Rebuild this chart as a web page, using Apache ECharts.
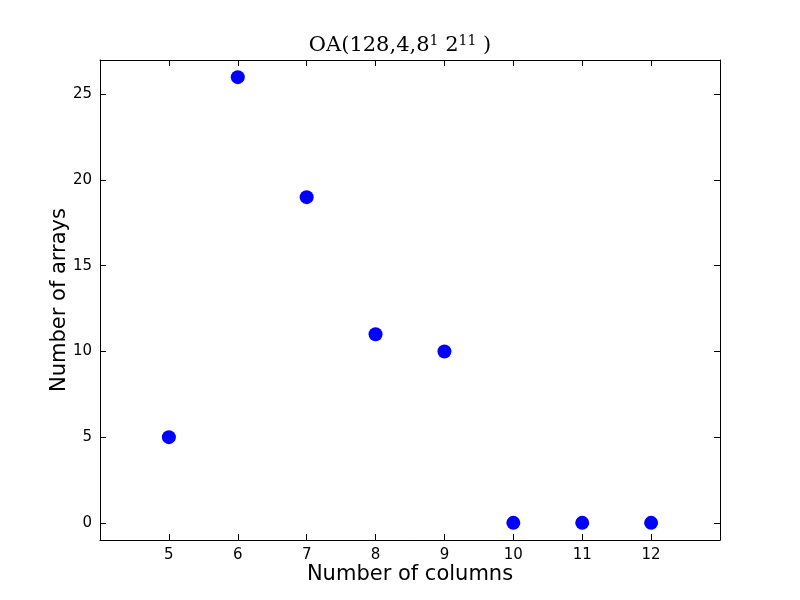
<!DOCTYPE html>
<html><head><meta charset="utf-8">
<script src="https://cdn.jsdelivr.net/npm/echarts@6/dist/echarts.min.js"></script>
<style>html,body{margin:0;padding:0;background:#fff}#c{width:800px;height:600px}</style>
</head><body><div id="c"></div>
<script>
const columns = [5, 6, 7, 8, 9, 10, 11, 12];
const arrays = [5, 26, 19, 11, 10, 0, 0, 0];
const xTicks = [5, 6, 7, 8, 9, 10, 11, 12];
const yTicks = [0, 5, 10, 15, 20, 25];

const chart = echarts.init(document.getElementById('c'));
const line = {show: true, onZero: false, lineStyle: {color: '#000', width: 1}};
const tick = vals => ({show: true, inside: true, length: 6, customValues: vals, lineStyle: {color: '#000', width: 1}});
const lbl = {fontFamily: 'DejaVu Sans', fontSize: 15, color: '#000'};
const nameStyle = {fontFamily: 'DejaVu Sans', fontSize: 21, color: '#000'};
chart.setOption({
  animation: false,
  title: {
    text: '{n|OA(128,4,8}{s|1}{n| 2}{s|11}{n| )}',
    left: 'center', top: 29,
    textStyle: {
      rich: {
        n: {fontFamily: 'DejaVu Serif', fontSize: 21, fontWeight: 'normal', color: '#000'},
        s: {fontFamily: 'DejaVu Serif', fontSize: 14, fontWeight: 'normal', color: '#000', verticalAlign: 'top', padding: [0, 0, 10, 0]}
      }
    }
  },
  grid: {left: 100, right: 80, top: 60, bottom: 60},
  xAxis: [
    {type: 'value', min: 4, max: 13, position: 'bottom',
      name: 'Number of columns', nameLocation: 'middle', nameGap: 24, nameMoveOverlap: false, nameTextStyle: nameStyle,
      axisLine: line, axisTick: tick(xTicks), splitLine: {show: false},
      axisLabel: Object.assign({customValues: xTicks, margin: 8}, lbl)},
    {type: 'value', min: 4, max: 13, position: 'top',
      axisLine: line, axisTick: tick(xTicks), splitLine: {show: false},
      axisLabel: {show: false}}
  ],
  yAxis: [
    {type: 'value', min: -1, max: 27, position: 'left',
      name: 'Number of arrays', nameLocation: 'middle', nameGap: 30, nameMoveOverlap: false, nameTextStyle: nameStyle,
      axisLine: line, axisTick: tick(yTicks), splitLine: {show: false},
      axisLabel: Object.assign({customValues: yTicks, margin: 8}, lbl)},
    {type: 'value', min: -1, max: 27, position: 'right',
      axisLine: line, axisTick: tick(yTicks), splitLine: {show: false},
      axisLabel: {show: false}}
  ],
  series: [{
    type: 'scatter',
    data: columns.map((c, i) => [c, arrays[i]]),
    symbol: 'circle', symbolSize: 14,
    itemStyle: {color: '#0000ff', opacity: 1}
  }]
});
</script></body></html>
